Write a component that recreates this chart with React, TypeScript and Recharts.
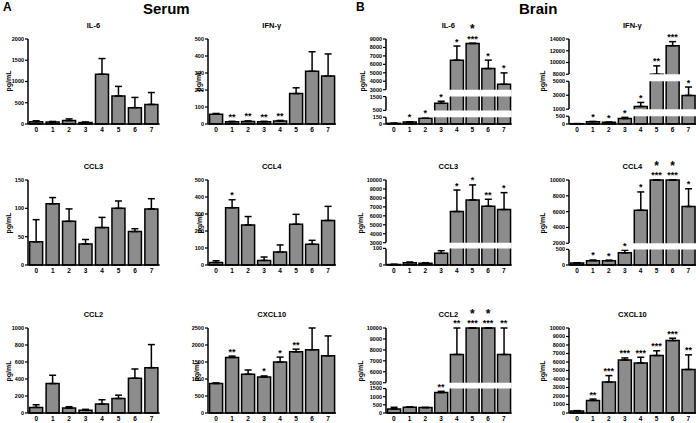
import { ComposedChart, Bar, Line, XAxis, YAxis, ErrorBar, ReferenceArea } from 'recharts'

const groups = ['0', '1', '2', '3', '4', '5', '6', '7']

// A: serum
const serumIl6 = [55, 45, 80, 35, 1170, 660, 385, 460]
const serumIl6Sem = [20, 15, 40, 12, 370, 225, 240, 280]
const serumIfng = [58, 13, 15, 13, 17, 179, 310, 282]
const serumIfngSem = [4, 3, 3, 3, 4, 34, 115, 130]
const serumIfngStars = ['', '**', '**', '**', '**', '', '', '']
const serumCcl3 = [41, 108, 77, 37, 66, 100, 59, 99]
const serumCcl3Sem = [39, 11, 22, 8, 18, 13, 5, 18]
const serumCcl4 = [14, 337, 236, 27, 76, 240, 122, 262]
const serumCcl4Sem = [11, 47, 49, 20, 42, 58, 23, 83]
const serumCcl4Stars = ['', '*', '', '', '', '', '', '']
const serumCcl2 = [66, 346, 58, 31, 105, 171, 409, 533]
const serumCcl2Sem = [31, 98, 16, 12, 51, 39, 109, 272]
const serumCxcl10 = [866, 1634, 1138, 1060, 1498, 1800, 1858, 1683]
const serumCxcl10Sem = [20, 40, 127, 30, 146, 77, 650, 584]
const serumCxcl10Stars = ['', '**', '', '*', '*', '**', '', '']

// B: brain
const brainIl6 = [15, 45, 130, 1010, 6500, 8480, 5500, 3640]
const brainIl6Sem = [3, 5, 20, 150, 1670, 0, 1000, 1350]
const brainIl6Stars = ['', '*', '*', '*', '*', '*|***', '*', '*']
const brainIfng = [20, 150, 110, 350, 1390, 8000, 12860, 2980]
const brainIfngSem = [3, 15, 10, 85, 580, 1430, 690, 1200]
const brainIfngStars = ['', '*', '*', '*', '*', '**', '***', '*']
const brainCcl3 = [3, 14, 10, 70, 6480, 7780, 7070, 6700]
const brainCcl3Sem = [1, 4, 4, 16, 2400, 1670, 780, 1890]
const brainCcl3Stars = ['', '', '', '', '*', '*', '**', '*']
const brainCcl4 = [65, 140, 140, 390, 6170, 10000, 10000, 6650]
const brainCcl4Sem = [8, 20, 15, 85, 2320, 0, 0, 2240]
const brainCcl4Stars = ['', '*', '*', '*', '*', '*|***', '*|***', '*']
const brainCcl2 = [250, 350, 330, 1250, 7580, 10000, 10000, 7580]
const brainCcl2Sem = [100, 20, 10, 80, 2420, 0, 0, 2420]
const brainCcl2Stars = ['', '', '', '**', '**', '*|***', '*|***', '**']
const brainCxcl10 = [240, 1480, 3640, 6240, 5880, 6760, 8520, 5120]
const brainCxcl10Sem = [40, 160, 760, 240, 680, 560, 280, 1720]
const brainCxcl10Stars = ['', '**', '***', '***', '***', '***', '***', '**']

const FONT = "'Liberation Sans', Arial, sans-serif"
const PLOT_H = 85
const AXIS_W = 34
const TOP_M = 28
const X_H = 14
const COLS = [27.6, 207.7, 385.5, 568.7]
const WIDTHS = [131.7, 128, 125.7, 127.4]
const ROWS = [38.7, 180.3, 328.3]

type Seg = { lo: number; hi: number; len: number }

function range(step: number, max: number) {
  const out: number[] = []
  for (let v = 0; v <= max; v += step) out.push(v)
  return out
}

// piecewise mapping for the broken y axes
function makeScale(segs: Seg[], gap: number) {
  return (v: number) => {
    let pos = 0
    for (let i = 0; i < segs.length; i++) {
      const s = segs[i]
      if (i > 0 && v < s.lo) {
        const prev = segs[i - 1]
        return pos - gap + ((v - prev.hi) / (s.lo - prev.hi)) * gap
      }
      if (v <= s.hi || i === segs.length - 1) {
        return pos + ((Math.min(v, s.hi) - s.lo) / (s.hi - s.lo)) * s.len
      }
      pos += s.len + gap
    }
    return pos
  }
}

function StarDot(props: any) {
  const { cx, cy, payload, index } = props
  if (!payload?.stars) return <g key={`s-${index}`} />
  const parts = payload.stars.split('|')
  const big = parts.length > 1 ? parts[0] : ''
  const small = parts[parts.length - 1]
  return (
    <g key={`s-${index}`} fontFamily={FONT} fontWeight={700} fill="#000">
      {big && <text x={cx} y={cy - 10} textAnchor="middle" fontSize={12}>{big}</text>}
      <text x={cx} y={cy - 1.5} textAnchor="middle" fontSize={9}>{small}</text>
    </g>
  )
}

interface PanelProps {
  title: string
  values: number[]
  sem: number[]
  stars?: string[]
  ticks: number[]
  segs: Seg[]
  gap?: number
  col: number
  row: number
  labelDx: number
}

function Panel({ title, values, sem, stars, ticks, segs, gap = 0, col, row, labelDx }: PanelProps) {
  const x = COLS[col]
  const y = ROWS[row]
  const w = WIDTHS[col]
  const scale = makeScale(segs, gap)
  const total = segs.reduce((a, s) => a + s.len, 0) + gap * (segs.length - 1)
  const rows = groups.map((name, i) => {
    const v = scale(values[i])
    const top = scale(values[i] + sem[i])
    return { name, v, err: [0, top - v], starY: top, stars: stars ? stars[i] : '' }
  })
  const tTicks = ticks.map(scale)

  const bands: [number, number][] = []
  let acc = 0
  segs.forEach((s, i) => {
    acc += s.len
    if (i < segs.length - 1) {
      bands.push([acc, acc + gap])
      acc += gap
    }
  })

  const px = PLOT_H / total
  let dash: string | undefined
  if (segs.length > 1) {
    const d: number[] = []
    ;[...segs].reverse().forEach((s, i) => {
      d.push(s.len * px)
      d.push(i < segs.length - 1 ? gap * px : 1000)
    })
    dash = d.join(' ')
  }

  return (
    <>
      <div style={{ position: 'absolute', left: x + w / 2, top: y - 14, transform: 'translate(-50%, -50%)', fontSize: 7.5, fontWeight: 700, whiteSpace: 'nowrap' }}>
        {title}
      </div>
      <div style={{ position: 'absolute', left: x - labelDx, top: y + PLOT_H / 2, transform: 'translate(-50%, -50%) rotate(-90deg)', fontSize: 7, fontWeight: 700, whiteSpace: 'nowrap' }}>
        pg/mL
      </div>
      <div style={{ position: 'absolute', left: x - AXIS_W, top: y - TOP_M }}>
        <ComposedChart
          width={AXIS_W + w + 4}
          height={TOP_M + PLOT_H + X_H}
          data={rows}
          margin={{ top: TOP_M, right: 4, bottom: 0, left: 0 }}
          barCategoryGap="10%"
        >
          <XAxis
            dataKey="name"
            height={X_H}
            tickLine={false}
            tickSize={0}
            tickMargin={3}
            interval={0}
            axisLine={{ stroke: '#000', strokeWidth: 1.5 }}
            tick={{ fill: '#000', fontSize: 6.5, fontWeight: 700, fontFamily: FONT }}
          />
          <YAxis
            type="number"
            domain={[0, total]}
            ticks={tTicks}
            interval={0}
            width={AXIS_W}
            tickSize={3}
            tickMargin={1}
            tickFormatter={(_v: number, i: number) => String(ticks[i])}
            axisLine={{ stroke: '#000', strokeWidth: 1.5, strokeDasharray: dash }}
            tickLine={{ stroke: '#000', strokeWidth: 1.2 }}
            tick={{ fill: '#000', fontSize: 5.5, fontWeight: 700, fontFamily: FONT }}
          />
          <Bar dataKey="v" fill="#8c8c8c" stroke="#000" strokeWidth={1.5} isAnimationActive={false}>
            <ErrorBar dataKey="err" width={3.5} stroke="#000" strokeWidth={1.5} direction="y" />
          </Bar>
          {bands.map(([a, b], i) => (
            <ReferenceArea key={i} y1={a} y2={b} fill="#fff" fillOpacity={1} stroke="none" ifOverflow="visible" {...({ zIndex: 550 } as any)} />
          ))}
          <Line dataKey="starY" stroke="none" dot={StarDot} activeDot={false} isAnimationActive={false} legendType="none" />
        </ComposedChart>
      </div>
    </>
  )
}

export default function App() {
  return (
    <div style={{ position: 'absolute', left: 0, top: 0, width: 696, height: 423, background: '#fff', fontFamily: FONT, color: '#000', overflow: 'hidden' }}>
      <div style={{ position: 'absolute', left: 3, top: 1, fontSize: 12, fontWeight: 700, lineHeight: 1 }}>A</div>
      <div style={{ position: 'absolute', left: 143, top: 1, fontSize: 15, fontWeight: 700, lineHeight: 1 }}>Serum</div>
      <div style={{ position: 'absolute', left: 356, top: 1, fontSize: 12, fontWeight: 700, lineHeight: 1 }}>B</div>
      <div style={{ position: 'absolute', left: 519, top: 1, fontSize: 15, fontWeight: 700, lineHeight: 1 }}>Brain</div>

      <Panel title="IL-6" values={serumIl6} sem={serumIl6Sem} ticks={range(500, 2000)} segs={[{ lo: 0, hi: 2000, len: PLOT_H }]} col={0} row={0} labelDx={20} />
      <Panel title="IFN-γ" values={serumIfng} sem={serumIfngSem} stars={serumIfngStars} ticks={range(100, 500)} segs={[{ lo: 0, hi: 500, len: PLOT_H }]} col={1} row={0} labelDx={10} />
      <Panel title="CCL3" values={serumCcl3} sem={serumCcl3Sem} ticks={range(50, 150)} segs={[{ lo: 0, hi: 150, len: PLOT_H }]} col={0} row={1} labelDx={20} />
      <Panel title="CCL4" values={serumCcl4} sem={serumCcl4Sem} stars={serumCcl4Stars} ticks={range(100, 500)} segs={[{ lo: 0, hi: 500, len: PLOT_H }]} col={1} row={1} labelDx={9} />
      <Panel title="CCL2" values={serumCcl2} sem={serumCcl2Sem} ticks={range(200, 1000)} segs={[{ lo: 0, hi: 1000, len: PLOT_H }]} col={0} row={2} labelDx={20} />
      <Panel title="CXCL10" values={serumCxcl10} sem={serumCxcl10Sem} stars={serumCxcl10Stars} ticks={range(500, 2500)} segs={[{ lo: 0, hi: 2500, len: PLOT_H }]} col={1} row={2} labelDx={12} />

      <Panel
        title="IL-6" values={brainIl6} sem={brainIl6Sem} stars={brainIl6Stars}
        ticks={[0, 150, 500, 1500, 3000, 4000, 5000, 6000, 7000, 8000, 9000]}
        segs={[{ lo: 0, hi: 150, len: 6.7 }, { lo: 500, hi: 1500, len: 13.7 }, { lo: 3000, hi: 9000, len: 50.3 }]} gap={6.8}
        col={2} row={0} labelDx={24}
      />
      <Panel
        title="IFN-γ" values={brainIfng} sem={brainIfngSem} stars={brainIfngStars}
        ticks={[0, 500, 1000, 3000, 5000, 8000, 10000, 12000, 14000]}
        segs={[{ lo: 0, hi: 500, len: 7.7 }, { lo: 1000, hi: 5000, len: 27.7 }, { lo: 8000, hi: 14000, len: 35 }]} gap={7}
        col={3} row={0} labelDx={27}
      />
      <Panel
        title="CCL3" values={brainCcl3} sem={brainCcl3Sem} stars={brainCcl3Stars}
        ticks={[0, 100, 3000, 4000, 5000, 6000, 7000, 8000, 9000, 10000]}
        segs={[{ lo: 0, hi: 100, len: 16.7 }, { lo: 3000, hi: 10000, len: 63 }]} gap={5.7}
        col={2} row={1} labelDx={26}
      />
      <Panel
        title="CCL4" values={brainCcl4} sem={brainCcl4Sem} stars={brainCcl4Stars}
        ticks={[0, 500, 2000, 4000, 6000, 8000, 10000]}
        segs={[{ lo: 0, hi: 500, len: 15.3 }, { lo: 2000, hi: 10000, len: 62 }]} gap={6}
        col={3} row={1} labelDx={27}
      />
      <Panel
        title="CCL2" values={brainCcl2} sem={brainCcl2Sem} stars={brainCcl2Stars}
        ticks={[0, 500, 1000, 1500, 5000, 6000, 7000, 8000, 9000, 10000]}
        segs={[{ lo: 0, hi: 1500, len: 24 }, { lo: 5000, hi: 10000, len: 53.7 }]} gap={5.7}
        col={2} row={2} labelDx={26}
      />
      <Panel
        title="CXCL10" values={brainCxcl10} sem={brainCxcl10Sem} stars={brainCxcl10Stars}
        ticks={range(1000, 10000)} segs={[{ lo: 0, hi: 10000, len: PLOT_H }]}
        col={3} row={2} labelDx={27}
      />
    </div>
  )
}
